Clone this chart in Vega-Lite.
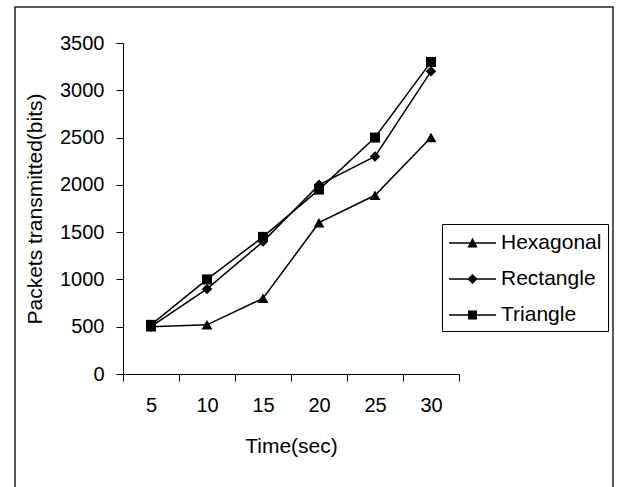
{
  "$schema": "https://vega.github.io/schema/vega-lite/v6.json",
  "width": 598,
  "height": 500,
  "autosize": {"type": "none"},
  "padding": {"left": 15, "top": 7, "right": 8, "bottom": 0},
  "background": "white",
  "config": {
    "view": {"stroke": "#222", "strokeWidth": 1.5},
    "font": "Liberation Sans",
    "axis": {
      "grid": false,
      "domainColor": "black",
      "tickColor": "black",
      "labelColor": "black",
      "titleColor": "black",
      "labelFont": "Liberation Sans",
      "titleFont": "Liberation Sans",
      "labelFontSize": 20,
      "titleFontSize": 21,
      "titleFontWeight": "normal",
      "tickSize": 7,
      "labelOverlap": false,
      "labelFlush": false
    }
  },
  "data": {
    "values": [
      {"series": "Hexagonal", "time": 5, "value": 500},
      {"series": "Hexagonal", "time": 10, "value": 520},
      {"series": "Hexagonal", "time": 15, "value": 800},
      {"series": "Hexagonal", "time": 20, "value": 1600},
      {"series": "Hexagonal", "time": 25, "value": 1890},
      {"series": "Hexagonal", "time": 30, "value": 2500},
      {"series": "Rectangle", "time": 5, "value": 500},
      {"series": "Rectangle", "time": 10, "value": 900},
      {"series": "Rectangle", "time": 15, "value": 1400},
      {"series": "Rectangle", "time": 20, "value": 2000},
      {"series": "Rectangle", "time": 25, "value": 2300},
      {"series": "Rectangle", "time": 30, "value": 3200},
      {"series": "Triangle", "time": 5, "value": 520},
      {"series": "Triangle", "time": 10, "value": 1000},
      {"series": "Triangle", "time": 15, "value": 1450},
      {"series": "Triangle", "time": 20, "value": 1950},
      {"series": "Triangle", "time": 25, "value": 2500},
      {"series": "Triangle", "time": 30, "value": 3300}
    ]
  },
  "encoding": {
    "x": {
      "field": "time",
      "type": "quantitative",
      "scale": {"domain": [2.5, 32.5], "range": [108, 444], "nice": false, "zero": false},
      "axis": {
        "title": "Time(sec)",
        "values": [2.5, 5, 7.5, 10, 12.5, 15, 17.5, 20, 22.5, 25, 27.5, 30, 32.5],
        "labelExpr": "datum.value % 5 == 0 ? format(datum.value, 'd') : ''",
        "tickOpacity": {"condition": {"test": "datum.value % 5 == 0", "value": 0}, "value": 1},
        "offset": -133,
        "labelPadding": 14,
        "titlePadding": 20
      }
    },
    "y": {
      "field": "value",
      "type": "quantitative",
      "scale": {"domain": [0, 3500], "range": [367, 36], "nice": false, "zero": true},
      "axis": {
        "title": "Packets transmitted(bits)",
        "values": [0, 500, 1000, 1500, 2000, 2500, 3000, 3500],
        "format": "d",
        "offset": -108,
        "labelPadding": 12,
        "titlePadding": 14
      }
    }
  },
  "layer": [
    {
      "mark": {"type": "line", "color": "black", "strokeWidth": 1.5},
      "encoding": {"detail": {"field": "series"}}
    },
    {
      "mark": {"type": "point", "filled": true, "color": "black", "opacity": 1},
      "encoding": {
        "shape": {
          "field": "series",
          "scale": {"domain": ["Hexagonal", "Rectangle", "Triangle"], "range": ["triangle-up", "diamond", "square"]},
          "legend": null
        },
        "size": {
          "field": "series",
          "type": "nominal",
          "scale": {"domain": ["Hexagonal", "Rectangle", "Triangle"], "range": [120, 100, 80]},
          "legend": null
        }
      }
    },
    {
      "transform": [{"filter": "datum.value < 0"}],
      "mark": {"type": "point", "filled": true, "color": "black", "opacity": 1},
      "encoding": {
        "shape": {
          "field": "series",
          "scale": {
            "domain": ["Hexagonal", "Rectangle", "Triangle"],
            "range": [
              "M-0.923,-0.058H2.693V0.058H-0.923Z M0.885,-0.42L1.27,0.35H0.5Z",
              "M-0.923,-0.058H2.693V0.058H-0.923Z M0.885,-0.385L1.27,0L0.885,0.385L0.5,0Z",
              "M-0.923,-0.058H2.693V0.058H-0.923Z M0.539,-0.346H1.231V0.346H0.539Z"
            ]
          },
          "legend": {
            "orient": "none",
            "legendX": 427,
            "legendY": 217,
            "title": null,
            "strokeColor": "black",
            "fillColor": "white",
            "padding": 6,
            "labelFont": "Liberation Sans",
            "labelFontSize": 21,
            "labelColor": "black",
            "labelOffset": 27,
            "rowPadding": 13,
            "symbolSize": 676,
            "symbolFillColor": "black",
            "symbolStrokeColor": "black",
            "symbolStrokeWidth": 0,
            "symbolOpacity": 1
          }
        }
      }
    }
  ],
  "resolve": {"scale": {"shape": "independent"}}
}
